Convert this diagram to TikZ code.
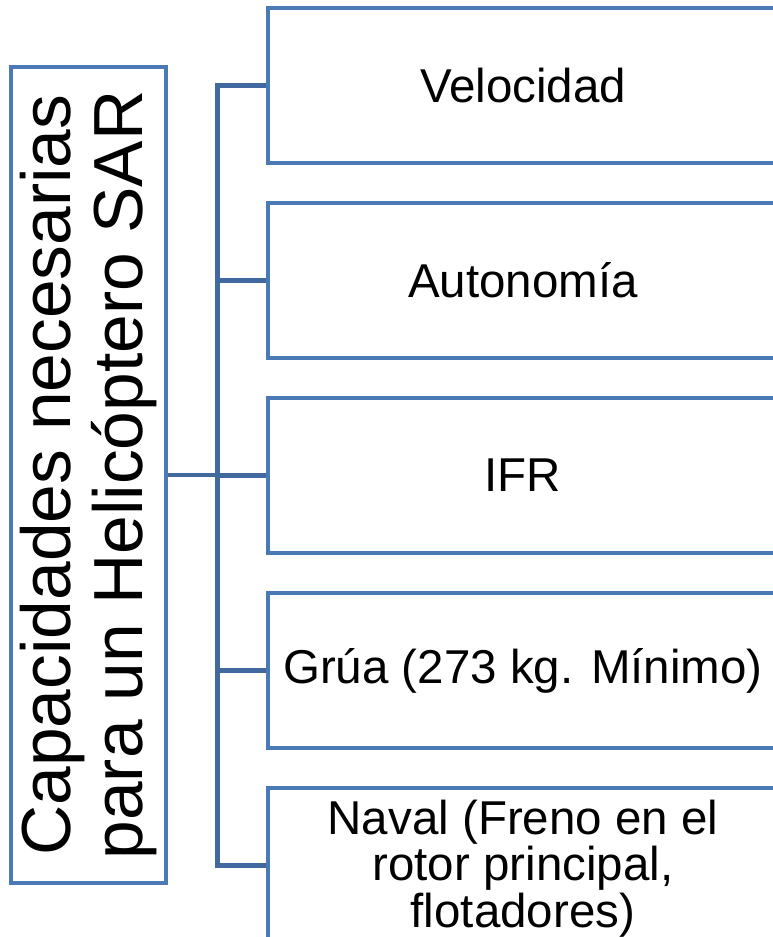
\documentclass[tikz,border=0pt]{standalone}
\usepackage{fontspec}
\setmainfont{Liberation Sans}
\definecolor{boxblue}{HTML}{4A7AB5}
\definecolor{linkblue}{HTML}{41689F}
\begin{document}
\begin{tikzpicture}[x=1pt,y=-1pt,
  rootbox/.style={draw=boxblue, line width=4.5pt, rotate=90, minimum width=816pt, minimum height=155pt, inner sep=0pt, align=center, font=\fontsize{69.5}{72}\selectfont},
  itembox/.style={draw=boxblue, line width=4.5pt, minimum width=510pt, minimum height=155pt, inner sep=0pt, align=center, font=\fontsize{47.5}{47}\selectfont},
  itemtext/.style={inner sep=0pt, align=center, font=\fontsize{47.5}{46.5}\selectfont},
  link/.style={draw=linkblue, line width=4.5pt}]
\useasboundingbox (0,0) rectangle (773,937);
\clip (0,0) rectangle (773,937);
\node[rootbox] (root) at (88.5,475) {Capacidades necesarias\\para un Helicóptero SAR};
\node[itembox] (b1) at (523,85.5) {Velocidad};
\node[itembox] (b2) at (523,280.5) {Autonomía};
\node[itembox] (b3) at (523,475.5) {IFR};
\node[itembox] (b4) at (523,670.5) {Grúa (273 kg. Mínimo)};
\node[itembox] (b5) at (523,865.5) {};
\node[itemtext] (t5) at ([yshift=-3pt]b5.center) {Naval (Freno en el\\rotor principal,\\flotadores)};
\coordinate (j) at (217.5,475);
\foreach \b in {b1,b2,b3,b4,b5}{
  \draw[link] (root.south) -- (j) |- (\b.west);
}
\end{tikzpicture}
\end{document}
